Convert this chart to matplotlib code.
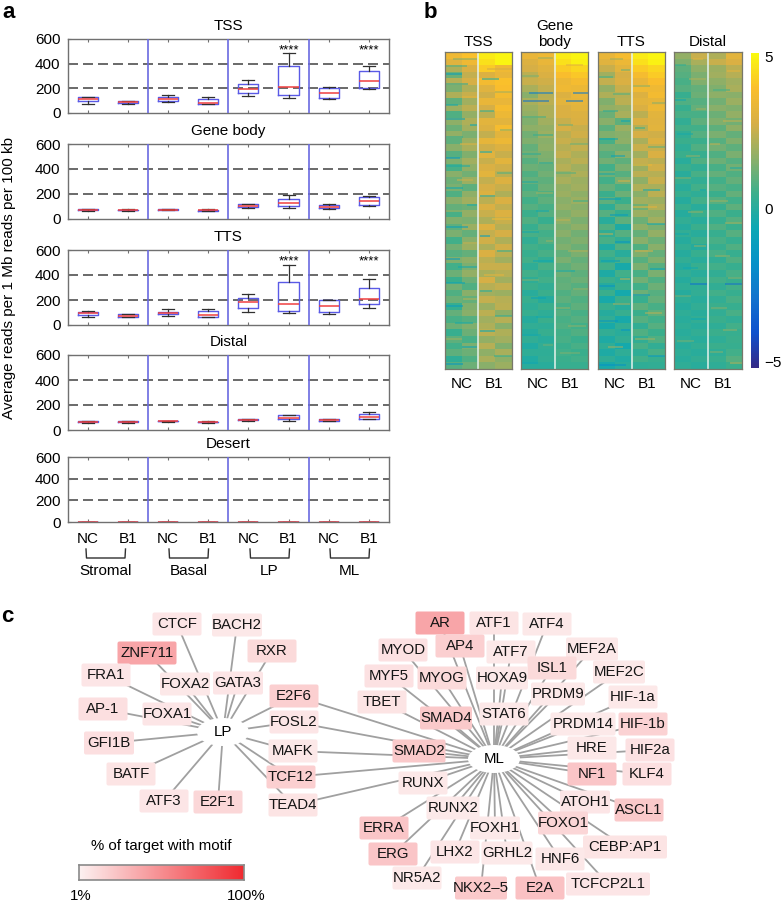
# Figure with box plots (a), heat maps (b) and motif networks (c)
import matplotlib
matplotlib.use('Agg')
import matplotlib.pyplot as plt
from matplotlib.colors import LinearSegmentedColormap
from matplotlib.patches import Ellipse, FancyBboxPatch
import numpy as np

plt.rcParams['font.family'] = ['Liberation Sans', 'DejaVu Sans']

W, H = 784, 914

# --- panel a data: whisker low, q1, median, q3, whisker high
region_names = ['TSS', 'Gene body', 'TTS', 'Distal', 'Desert']
tick_labels = ['NC', 'B1'] * 4
group_names = ['Stromal', 'Basal', 'LP', 'ML']
tss_boxes = [[75, 97, 116, 130, 130], [75, 80, 86, 95, 97], [90, 97, 110, 130, 143], [72, 73, 85, 112, 128],
             [140, 160, 197, 238, 265], [125, 142, 213, 380, 490], [115, 118, 165, 205, 207], [197, 202, 260, 340, 385]]
gene_boxes = [[60, 68, 72, 76, 82], [65, 68, 71, 74, 78], [68, 70, 73, 78, 80], [60, 63, 68, 74, 80],
              [85, 92, 102, 116, 120], [85, 100, 127, 158, 190], [80, 88, 95, 112, 118], [100, 110, 143, 172, 185]]
tts_boxes = [[62, 78, 95, 108, 110], [62, 66, 75, 85, 88], [75, 85, 95, 108, 130], [62, 65, 80, 110, 130],
             [105, 138, 185, 218, 245], [95, 112, 170, 342, 480], [90, 102, 155, 200, 200], [140, 165, 205, 295, 370]]
distal_boxes = [[60, 65, 68, 72, 75], [58, 62, 65, 69, 70], [68, 70, 71, 73, 74], [58, 62, 64, 68, 72],
                [75, 78, 83, 88, 90], [75, 85, 100, 118, 122], [72, 75, 80, 87, 92], [85, 92, 105, 128, 148]]
desert_boxes = [[2, 2, 2, 2, 2]] * 8
all_boxes = [tss_boxes, gene_boxes, tts_boxes, distal_boxes, desert_boxes]
star_positions = [6, 8]
star_regions = ['TSS', 'TTS']

# --- panel b data: coarse reading of each heat map, columns NC left/right, B1 left/right
tss_heat = [
    [3.6, 4.0, 4.8, 5.0], [3.1, 3.6, 4.6, 5.0], [2.2, 2.9, 4.2, 3.6], [1.2, 2.5, 3.0, 3.4], [2.3, 2.8, 3.7, 4.0],
    [1.4, 2.2, 3.1, 3.9], [2.2, 2.6, 2.7, 3.7], [1.0, 2.0, 3.4, 3.4], [1.9, 2.4, 2.8, 3.8], [0.8, 1.8, 2.4, 3.5],
    [1.7, 2.2, 3.2, 3.2], [1.2, 2.0, 3.0, 3.8], [1.8, 1.4, 2.5, 3.2], [1.0, 1.9, 3.3, 3.5], [1.6, 2.1, 2.7, 3.0],
    [0.9, 1.5, 3.1, 2.6], [1.5, 2.0, 2.6, 3.2], [0.7, 1.7, 2.9, 2.7], [1.6, 1.3, 3.2, 2.4], [1.2, 1.9, 2.5, 3.0],
    [1.4, 1.0, 2.8, 2.6], [0.8, 1.7, 3.0, 2.2], [1.6, 2.0, 2.4, 2.9], [1.1, 1.2, 2.9, 2.5], [0.7, 1.8, 2.6, 3.0],
    [1.5, 1.4, 2.2, 2.6], [1.0, 1.9, 3.0, 2.3], [1.4, 1.1, 2.5, 2.8], [0.6, 1.6, 2.7, 2.2], [1.3, 1.9, 2.2, 2.7],
    [0.9, 1.1, 2.9, 2.4], [1.5, 1.7, 2.4, 2.0], [0.6, 1.4, 2.6, 2.6], [1.2, 1.8, 2.1, 2.3], [0.5, 1.2, 2.8, 2.0],
    [1.3, 0.8, 2.3, 2.5], [0.8, 1.6, 2.0, 1.9], [1.2, 1.1, 2.5, 2.3], [0.4, 1.5, 1.9, 2.4], [1.1, 1.6, 2.4, 1.7],
    [0.7, 0.9, 2.0, 2.3], [1.2, 1.5, 2.2, 1.6], [0.4, 1.2, 2.4, 2.2], [1.0, 0.7, 1.8, 2.0], [0.6, 1.4, 2.3, 1.5],
    [1.0, 1.2, 1.7, 2.1], [0.2, 0.8, 2.1, 1.7], [0.9, 1.2, 1.6, 1.9]]
gene_heat = [
    [3.4, 3.6, 4.8, 5.0], [3.0, 3.4, 4.6, 4.9], [2.8, 3.1, 4.2, 4.4], [2.4, 2.9, 3.9, 4.1], [2.6, 2.7, 3.5, 3.8],
    [2.1, 2.5, 3.6, 3.5], [1.6, 2.3, 3.0, 3.4], [2.1, 2.4, 3.2, 3.3], [1.9, 2.2, 2.9, 3.2], [1.8, 2.2, 2.9, 3.0],
    [1.5, 2.0, 2.6, 2.9], [1.7, 1.8, 2.8, 2.6], [1.3, 1.9, 2.4, 2.7], [1.5, 1.6, 2.6, 2.4], [1.1, 1.7, 2.3, 2.5],
    [1.3, 1.5, 2.5, 2.2], [0.9, 1.4, 2.1, 2.4], [1.2, 1.1, 2.3, 2.0], [0.8, 1.3, 1.9, 2.2], [1.1, 1.0, 2.1, 1.9],
    [0.7, 1.2, 1.8, 2.0], [1.0, 0.8, 1.9, 1.7], [0.6, 1.0, 1.6, 1.9], [0.9, 0.7, 1.8, 1.6], [0.5, 0.9, 1.5, 1.8],
    [0.8, 0.4, 1.7, 1.4], [0.4, 0.9, 1.4, 1.7], [0.7, 0.6, 1.6, 1.3], [0.3, 0.8, 1.3, 1.5], [0.6, 0.5, 1.5, 1.2],
    [0.4, 0.7, 1.1, 1.4], [0.6, 0.3, 1.4, 1.1], [0.2, 0.7, 1.0, 1.3], [0.6, 0.4, 1.2, 1.0], [0.2, 0.6, 1.0, 1.2],
    [0.5, 0.3, 1.1, 0.9], [0.1, 0.5, 0.8, 1.1], [0.4, 0.0, 1.0, 0.8], [0.2, 0.5, 0.7, 1.0], [0.4, 0.2, 0.9, 0.7],
    [0.0, 0.5, 0.7, 0.9], [0.3, 0.2, 0.8, 0.6], [0.0, 0.4, 0.6, 0.8], [0.3, 0.1, 0.7, 0.5], [-0.1, 0.3, 0.5, 0.7],
    [0.2, 0.2, 0.6, 0.5], [-0.1, 0.3, 0.5, 0.6], [0.1, 0.1, 0.4, 0.4]]
tts_heat = [
    [3.4, 3.8, 4.8, 5.0], [3.1, 3.5, 4.6, 4.9], [2.6, 3.2, 4.2, 4.4], [2.0, 2.8, 3.8, 4.2], [2.5, 2.9, 3.4, 3.9],
    [1.8, 2.6, 3.6, 3.6], [2.2, 2.3, 3.0, 3.7], [1.5, 2.4, 3.2, 3.3], [1.8, 1.9, 2.9, 3.5], [1.2, 2.1, 2.4, 3.2],
    [1.6, 1.0, 2.9, 3.1], [1.0, 1.9, 2.3, 3.2], [1.5, 1.6, 2.8, 2.7], [0.7, 1.7, 2.1, 3.0], [1.3, 1.2, 2.6, 2.6],
    [0.9, 1.6, 2.0, 2.9], [1.3, 1.0, 2.5, 2.4], [0.6, 1.4, 1.9, 2.7], [1.2, 0.9, 2.4, 2.3], [0.6, 1.4, 1.7, 2.6],
    [1.1, 0.7, 2.2, 2.1], [0.5, 1.2, 1.6, 2.4], [1.0, 0.5, 2.0, 1.9], [0.2, 1.1, 1.3, 2.2], [0.9, 0.4, 1.9, 1.7],
    [0.1, 1.0, 1.2, 2.0], [0.8, -0.2, 1.7, 1.4], [0.3, 0.9, 1.1, 1.8], [0.7, 0.3, 1.6, 1.2], [-0.1, 0.8, 0.8, 1.6],
    [0.6, 0.1, 1.5, 1.1], [0.2, 0.7, 0.9, 1.5], [0.6, -0.3, 1.4, 0.9], [-0.2, 0.6, 0.7, 1.4], [0.5, 0.2, 1.3, 0.8],
    [0.0, 0.5, 0.6, 1.2], [0.5, -0.4, 1.2, 0.9], [-0.3, 0.5, 0.4, 1.1], [0.4, 0.1, 1.0, 0.7], [0.0, 0.4, 0.5, 1.0],
    [0.3, -0.3, 0.9, 0.6], [-0.3, 0.3, 0.3, 0.9], [0.3, 0.1, 0.8, 0.5], [-0.2, 0.3, 0.3, 0.8], [0.2, -0.4, 0.7, 0.3],
    [-0.2, 0.2, 0.2, 0.7], [0.2, -0.1, 0.6, 0.4], [-0.3, 0.1, 0.2, 0.3]]
distal_heat = [
    [1.8, 2.6, 2.2, 3.2], [1.5, 2.1, 2.6, 2.9], [1.0, 1.7, 1.9, 2.4], [0.9, 1.4, 2.0, 2.3], [0.7, 1.5, 1.7, 2.0],
    [0.9, 1.1, 1.5, 2.1], [0.4, 1.2, 1.7, 1.6], [0.8, 0.9, 1.3, 1.9], [0.4, 1.1, 1.6, 1.5], [0.7, 0.7, 1.2, 1.8],
    [0.3, 1.0, 1.5, 1.3], [0.6, 0.6, 1.0, 1.7], [0.3, 0.9, 1.4, 1.1], [0.5, 0.5, 0.9, 1.5], [0.2, 0.8, 1.3, 1.0],
    [0.5, 0.4, 0.8, 1.4], [0.1, 0.8, 1.2, 0.9], [0.5, 0.3, 0.7, 1.3], [0.1, 0.7, 1.1, 0.8], [0.4, 0.3, 0.6, 1.1],
    [0.1, 0.6, 0.9, 0.7], [0.4, 0.2, 0.5, 1.1], [0.0, 0.6, 0.9, 0.6], [0.4, 0.1, 0.4, 1.0], [0.0, 0.5, 0.8, 0.5],
    [0.3, 0.1, 0.4, 0.9], [0.0, 0.5, 0.8, 0.5], [0.3, 0.1, 0.4, 0.9], [0.0, 0.5, 0.7, 0.4], [0.3, 0.0, 0.4, 0.8],
    [0.0, 0.4, 0.7, 0.4], [0.3, 0.1, 0.3, 0.8], [0.0, 0.4, 0.6, 0.4], [0.3, 0.1, 0.3, 0.7], [0.0, 0.4, 0.6, 0.4],
    [0.2, 0.2, 0.3, 0.6], [0.0, 0.3, 0.6, 0.4], [0.2, 0.1, 0.3, 0.7], [0.0, 0.3, 0.5, 0.4], [0.2, 0.1, 0.3, 0.7],
    [0.1, 0.3, 0.5, 0.3], [0.2, 0.1, 0.2, 0.6], [0.1, 0.3, 0.5, 0.4], [0.2, 0.1, 0.2, 0.5], [0.1, 0.3, 0.5, 0.4],
    [0.2, 0.1, 0.2, 0.6], [0.1, 0.3, 0.4, 0.9], [0.2, 0.1, 0.2, 0.5]]
heat_maps = [tss_heat, gene_heat, tts_heat, distal_heat]
heat_titles = ['TSS', 'Gene\nbody', 'TTS', 'Distal']

# thin streaks seen on top of the coarse reading: row, first column, last column, value
tss_streaks = [
    (0.5, 0.0, 1.4, 1.5), (1.6, -0.5, 0.8, 0.8), (2.1, 2.0, 3.5, 2.8), (2.8, -0.5, 0.5, -1.0), (3.6, 1.7, 2.7, -0.3),
    (4.4, -0.5, 0.9, 0.2), (5.6, 2.5, 3.5, 2.0), (6.3, 0.5, 1.4, 3.2), (7.5, -0.5, 0.3, -0.4), (8.4, 1.6, 2.4, 0.3),
    (9.6, -0.5, 0.7, -0.9), (10.5, 1.0, 1.4, -0.6), (11.3, 2.8, 3.5, 1.5), (12.4, -0.5, 0.6, 0.3), (13.5, 0.4, 1.4, 3.0),
    (14.6, 1.6, 2.3, -0.5), (15.5, -0.5, 0.4, -1.3), (16.7, -0.5, 1.0, -0.2), (17.8, 2.6, 3.5, 0.8), (18.9, 0.2, 1.2, 2.6),
    (20.1, -0.5, 0.6, -0.6), (21.3, 1.6, 2.5, -0.4), (22.6, 0.8, 1.4, -0.2), (23.5, -0.5, 0.5, 2.2), (24.8, 2.3, 3.5, 3.6),
    (26.0, -0.5, 0.9, -1.0), (27.3, 1.6, 2.2, -1.0), (28.4, 0.6, 1.4, 2.6), (29.6, 2.6, 3.5, 0.4), (30.8, -0.5, 0.4, -1.2),
    (32.0, 0.3, 1.4, -0.4), (33.2, 1.8, 3.0, 3.2), (34.5, -0.5, 0.7, -0.8), (35.7, 1.6, 2.3, 0.0), (36.9, 0.6, 1.4, 2.3),
    (38.0, -0.5, 0.6, -1.2), (39.4, 2.5, 3.5, 0.2), (40.6, 0.1, 1.2, -0.3), (41.8, 1.6, 2.5, -0.6), (43.0, -0.5, 0.5, 2.0),
    (44.2, 0.5, 1.4, -0.8), (45.5, 2.4, 3.5, 0.3), (46.7, -0.5, 0.6, -1.4)]
gene_streaks = [
    (0.4, 0.5, 1.4, 1.8), (1.4, 2.2, 3.2, 3.2), (5.7, 0.0, 1.4, -2.6), (5.7, 2.6, 3.5, -2.6), (6.9, -0.4, 1.2, -2.9),
    (6.9, 2.2, 3.2, -2.7), (3.2, -0.5, 0.6, 1.4), (9.3, -0.5, 1.0, 0.6), (10.6, 1.7, 2.6, 1.3), (12.1, 0.2, 1.4, 0.4),
    (13.5, 2.4, 3.5, 1.2), (15.0, -0.5, 0.7, 0.2), (16.3, 0.6, 1.4, 0.0), (17.8, 1.6, 2.8, 0.9), (19.2, -0.5, 0.5, -0.1),
    (20.9, 0.4, 1.4, 1.9), (22.1, 2.6, 3.5, 0.5), (23.6, 0.4, 1.2, -0.5), (25.0, 1.6, 2.4, 2.4), (26.7, -0.5, 0.6, -0.4),
    (28.1, 1.0, 1.4, 1.8), (29.6, 2.3, 3.5, 2.2), (31.2, 0.2, 1.4, -0.6), (32.6, 1.6, 2.7, -0.3), (34.0, -0.5, 0.6, 1.4),
    (35.4, 2.6, 3.5, 1.8), (36.8, 0.1, 1.0, -0.8), (38.2, 1.6, 2.4, 1.7), (39.6, 0.4, 1.4, -0.5), (41.0, 2.3, 3.4, 1.6),
    (42.3, -0.5, 0.7, -0.4), (43.8, 0.8, 1.4, 1.2), (45.1, 1.8, 3.0, 1.4), (46.6, -0.5, 0.5, -0.7)]
tts_streaks = [
    (0.6, 0.2, 1.0, 2.0), (2.2, 0.9, 1.4, 1.2), (3.3, -0.5, 0.4, 0.6), (4.6, 1.6, 2.6, 1.6), (5.8, 0.4, 1.4, 0.8),
    (7.2, 2.7, 3.5, 1.6), (8.4, -0.2, 0.7, 0.2), (9.9, 0.9, 1.4, -0.7), (11.0, 1.7, 2.3, 0.5), (12.6, -0.5, 0.7, -0.5),
    (13.9, 2.5, 3.5, 1.0), (15.2, 0.3, 1.1, -0.9), (16.6, 1.6, 2.7, 3.4), (17.9, -0.5, 0.5, -0.3), (19.1, 0.7, 1.4, 2.8),
    (20.4, 2.2, 3.2, -0.4), (21.7, -0.5, 0.9, -1.0), (22.9, 1.6, 3.0, 3.2), (24.2, 0.2, 1.3, -1.2), (25.6, 2.4, 3.5, -0.6),
    (27.0, -0.5, 0.4, 2.4), (28.3, 0.5, 1.4, -1.5), (29.7, 1.7, 2.8, 2.7), (31.1, -0.3, 0.8, -1.0), (32.4, 2.6, 3.5, -0.9),
    (33.8, 0.8, 1.4, 2.3), (35.0, -0.5, 0.5, -1.6), (36.3, 1.6, 2.6, -1.3), (37.7, 0.4, 1.4, 2.0), (39.0, 2.3, 3.3, 2.3),
    (40.3, -0.5, 0.7, -1.4), (41.6, 0.9, 1.4, -1.5), (42.9, 1.7, 2.9, 2.0), (44.2, 0.1, 1.0, 1.9), (45.6, 2.5, 3.5, -1.3),
    (46.9, -0.5, 1.2, -1.7)]
distal_streaks = [
    (0.5, 0.6, 1.2, 3.1), (1.5, -0.5, 0.2, 0.3), (2.4, 2.6, 3.4, 3.2), (3.6, 0.4, 1.4, 2.2), (5.2, 1.8, 2.8, 0.6),
    (6.8, -0.5, 0.2, -0.5), (8.2, 0.8, 1.4, 2.0), (10.0, 2.4, 3.5, 2.5), (11.9, -0.3, 0.6, -0.3), (13.5, 1.6, 2.2, 2.4),
    (15.3, 0.2, 1.0, 1.7), (17.0, 2.8, 3.5, -0.2), (18.6, -0.5, 0.5, 1.4), (20.4, 1.0, 1.4, -0.6), (22.0, 1.6, 2.7, 1.9),
    (23.7, 0.3, 1.2, 1.7), (25.4, 2.5, 3.5, 1.9), (27.1, -0.5, 0.4, -0.4), (28.8, 0.7, 1.4, 1.6), (30.4, 1.9, 2.8, 1.7),
    (32.2, 0.0, 0.9, -0.5), (33.7, 2.7, 3.5, 1.6), (34.6, 0.44, 1.44, -3.0), (34.6, 2.5, 3.5, -3.0), (36.5, -0.5, 0.5, 1.2),
    (38.2, 1.7, 2.6, 1.5), (39.9, 0.5, 1.4, -0.6), (41.6, 2.4, 3.2, 1.7), (43.3, -0.3, 0.7, 1.3), (45.0, 1.6, 2.4, 1.5),
    (46.6, 2.8, 3.5, 2.3)]
heat_streaks = [tss_streaks, gene_streaks, tts_streaks, distal_streaks]

# --- panel c data: motif name and % of targets with the motif
lp_names = ['CTCF', 'BACH2', 'ZNF711', 'RXR', 'FRA1', 'FOXA2', 'GATA3', 'AP-1', 'FOXA1', 'GFI1B', 'BATF', 'ATF3', 'E2F1']
lp_pct = [6, 5, 38, 12, 6, 5, 6, 9, 6, 9, 7, 6, 13]
both_names = ['E2F6', 'FOSL2', 'MAFK', 'TCF12', 'TEAD4']
both_pct = [17, 6, 5, 17, 7]
ml_names = ['AR', 'ATF1', 'ATF4', 'MYOD', 'AP4', 'ATF7', 'MEF2A', 'ISL1', 'MYF5', 'MYOG', 'HOXA9', 'MEF2C', 'PRDM9',
            'HIF-1a', 'TBET', 'STAT6', 'SMAD4', 'PRDM14', 'HIF-1b', 'HRE', 'HIF2a', 'SMAD2', 'NF1', 'KLF4', 'RUNX',
            'ATOH1', 'ASCL1', 'RUNX2', 'FOXO1', 'ERRA', 'FOXH1', 'CEBP:AP1', 'ERG', 'LHX2', 'GRHL2', 'HNF6', 'NR5A2',
            'NKX2–5', 'E2A', 'TCFCP2L1']
ml_pct = [38, 7, 5, 8, 17, 5, 5, 12, 8, 12, 5, 5, 4, 5, 7, 5, 20, 4, 16, 5, 8, 20, 22, 9, 5,
          6, 20, 4, 14, 22, 4, 7, 22, 6, 4, 5, 4, 20, 24, 6]

# layout of the network, in pixels of the picture: (x, y, box width)
node_layout = {
    'CTCF': (177, 624, 49), 'BACH2': (237, 625, 50), 'ZNF711': (147, 653, 59), 'RXR': (272, 651, 49),
    'FRA1': (106, 675, 49), 'FOXA2': (185, 684, 50), 'GATA3': (238, 683, 50), 'E2F6': (294, 696, 49),
    'AP-1': (103, 709, 49), 'FOXA1': (167, 714, 49), 'FOSL2': (294, 722, 49), 'GFI1B': (109, 743, 50),
    'MAFK': (293, 751, 49), 'BATF': (131, 774, 49), 'TCF12': (291, 777, 49), 'ATF3': (164, 801, 49),
    'E2F1': (218, 802, 49), 'TEAD4': (293, 805, 49),
    'AR': (440, 623, 49), 'ATF1': (494, 623, 49), 'ATF4': (547, 624, 49), 'MYOD': (403, 650, 49),
    'AP4': (460, 646, 49), 'ATF7': (511, 652, 49), 'MEF2A': (592, 649, 52), 'ISL1': (552, 668, 49),
    'MYF5': (389, 676, 49), 'MYOG': (442, 678, 49), 'HOXA9': (502, 678, 52), 'MEF2C': (619, 672, 52),
    'PRDM9': (558, 694, 54), 'HIF-1a': (633, 697, 49), 'TBET': (382, 702, 49), 'STAT6': (504, 714, 49),
    'SMAD4': (446, 718, 52), 'PRDM14': (583, 724, 65), 'HIF-1b': (643, 724, 49), 'HRE': (592, 748, 49),
    'HIF2a': (650, 750, 49), 'SMAD2': (419, 751, 53), 'NF1': (592, 774, 49), 'KLF4': (647, 774, 49),
    'RUNX': (423, 783, 49), 'ATOH1': (585, 802, 50), 'ASCL1': (639, 810, 49), 'RUNX2': (453, 808, 53),
    'FOXO1': (563, 823, 50), 'ERRA': (384, 828, 49), 'FOXH1': (495, 828, 50), 'CEBP:AP1': (625, 847, 84),
    'ERG': (393, 854, 49), 'LHX2': (455, 852, 49), 'GRHL2': (507, 853, 51), 'HNF6': (560, 859, 49),
    'NR5A2': (417, 878, 49), 'NKX2–5': (481, 888, 52), 'E2A': (540, 888, 49), 'TCFCP2L1': (608, 884, 84)}
lp_hub = (223, 732)
ml_hub = (494, 759)

parula = LinearSegmentedColormap.from_list('parula', [
    (53/255, 42/255, 135/255), (15/255, 80/255, 205/255), (18/255, 115/255, 205/255), (7/255, 145/255, 200/255),
    (12/255, 168/255, 180/255), (60/255, 175/255, 140/255), (140/255, 175/255, 105/255), (215/255, 175/255, 70/255),
    (250/255, 190/255, 45/255), (250/255, 250/255, 15/255)])
motif_cmap = LinearSegmentedColormap.from_list('motif', ['#fdf1f1', '#f02a30'])

fig = plt.figure(figsize=(W / 100, H / 100), dpi=100)


def px_axes(x0, y0, x1, y1):
    # axes placed by picture pixels, y counted from the top
    return fig.add_axes([x0 / W, 1 - y1 / H, (x1 - x0) / W, (y1 - y0) / H])


# overlay for free text, brackets and the network
over = px_axes(0, 0, W, H)
over.set_xlim(0, W)
over.set_ylim(H, 0)
over.axis('off')

# --- panel a
panel_rows = [(39, 113), (144, 219), (250, 325), (355, 430), (457, 522)]
grey = '#707070'
for name, boxes, (top, bottom) in zip(region_names, all_boxes, panel_rows):
    ax = px_axes(67.5, top, 389, bottom)
    stats = [dict(whislo=b[0], q1=b[1], med=b[2], q3=b[3], whishi=b[4], fliers=[]) for b in boxes]
    ax.axhline(200, color='#505050', lw=1.2, dashes=(6, 3), zorder=1)
    ax.axhline(400, color='#505050', lw=1.2, dashes=(6, 3), zorder=1)
    ax.bxp(stats, positions=range(1, 9), widths=0.5, capwidths=0.3, showfliers=False,
           boxprops=dict(color='#5a5ae6', lw=1.0), medianprops=dict(color='#f04040', lw=1.1),
           whiskerprops=dict(color='#303030', lw=0.9), capprops=dict(color='#303030', lw=0.9))
    for sep in [2.5, 4.5, 6.5]:
        ax.axvline(sep, color='#6a6ae0', lw=1.2, zorder=3)
    ax.set_xlim(0.5, 8.5)
    ax.set_ylim(0, 600)
    ax.set_yticks([0, 200, 400, 600])
    ax.set_xticks(range(1, 9))
    ax.set_xticklabels(tick_labels if name == 'Desert' else [])
    ax.tick_params(axis='both', direction='in', length=2, width=0.8, color=grey, top=True, labelsize=11, pad=5)
    ax.tick_params(axis='x', pad=7)
    for s in ax.spines.values():
        s.set_color(grey)
        s.set_linewidth(1.0)
    ax.set_title(name, fontsize=11, pad=6.5, x=0.5)
    if name in star_regions:
        for p in star_positions:
            ax.text(p, 510, '****', ha='center', va='center', fontsize=9.5)

over.text(9, 278, 'Average reads per 1 Mb reads per 100 kb', rotation=90, ha='center', va='center', fontsize=11)
for i, g in enumerate(group_names):
    left = [86, 169, 250, 330][i]
    over.plot([left, left + 0.5, left + 39, left + 39.5], [549, 558, 558, 549], color='#303030', lw=1.0)
    over.text(left + 19.5, 571, g, ha='center', va='center', fontsize=11)

over.text(2, 13, 'a', fontsize=16, fontweight='bold', ha='left', va='center')
over.text(424, 13, 'b', fontsize=16, fontweight='bold', ha='left', va='center')
over.text(1, 617, 'c', fontsize=16, fontweight='bold', ha='left', va='center')

# --- panel b
heat_x = [(445, 512), (521, 588), (598, 665), (674, 742)]
for title, heat, streaks, (x0, x1) in zip(heat_titles, heat_maps, heat_streaks, heat_x):
    ax = px_axes(x0, 52, x1, 369)
    im = ax.imshow(np.array(heat), aspect='auto', cmap=parula, vmin=-5.2, vmax=5.1, interpolation='nearest')
    for row, c0, c1, val in streaks:
        ax.hlines(row, c0, c1, colors=[parula(im.norm(val))], lw=1.4, alpha=0.55, zorder=1)
    ax.axvline(1.5, color='#e4f2ee', lw=1.1)
    ax.set_yticks([])
    ax.set_xticks([0.5, 2.4])
    ax.set_xticklabels(['NC', 'B1'])
    ax.tick_params(axis='x', length=0, labelsize=11, pad=6)
    for s in ax.spines.values():
        s.set_color('#77776a')
        s.set_linewidth(0.9)
    ax.set_title(title, fontsize=11, pad=4, linespacing=1.25)

cax = px_axes(751, 53, 759, 368)
fig.colorbar(im, cax=cax, ticks=[-5, 0, 5])
cax.set_yticklabels(['−5', '0', '5'])
cax.tick_params(length=0, labelsize=11, pad=4)
cax.spines['outline'].set_visible(False)

# --- panel c
for node_names, hubs in [(lp_names, [lp_hub]), (both_names, [lp_hub, ml_hub]), (ml_names, [ml_hub])]:
    for n in node_names:
        for hub in hubs:
            over.plot([hub[0], node_layout[n][0]], [hub[1], node_layout[n][1]], color='#a0a0a0', lw=1.3, zorder=2)

for node_names, node_pct in [(lp_names, lp_pct), (both_names, both_pct), (ml_names, ml_pct)]:
    for n, p in zip(node_names, node_pct):
        x, y, w = node_layout[n]
        box = FancyBboxPatch((x - w / 2 + 1, y - 10.5), w - 2, 21, boxstyle='round,pad=1,rounding_size=2',
                             fc=motif_cmap(p / 100), ec='none', zorder=3)
        over.add_patch(box)
        over.text(x, y, n, ha='center', va='center', fontsize=10.8, color='#151515', zorder=4)

for hub, label in [(lp_hub, 'LP'), (ml_hub, 'ML')]:
    over.add_patch(Ellipse(hub, 52, 28, fc='white', ec='none', zorder=3))
    over.text(hub[0], hub[1], label, ha='center', va='center', fontsize=10.8, zorder=4)

# legend of panel c
over.text(161, 846, '% of target with motif', ha='center', va='center', fontsize=10.8)
lax = px_axes(79, 865, 244, 880)
lax.imshow(np.linspace(1, 100, 200)[None, :], aspect='auto', cmap=motif_cmap, vmin=1, vmax=100)
lax.set_xticks([])
lax.set_yticks([])
for s in lax.spines.values():
    s.set_color('#8a8a8a')
    s.set_linewidth(1.2)
over.text(81, 896, '1%', ha='center', va='center', fontsize=10.8)
over.text(246, 896, '100%', ha='center', va='center', fontsize=10.8)

fig.savefig('out.png', dpi=100)
